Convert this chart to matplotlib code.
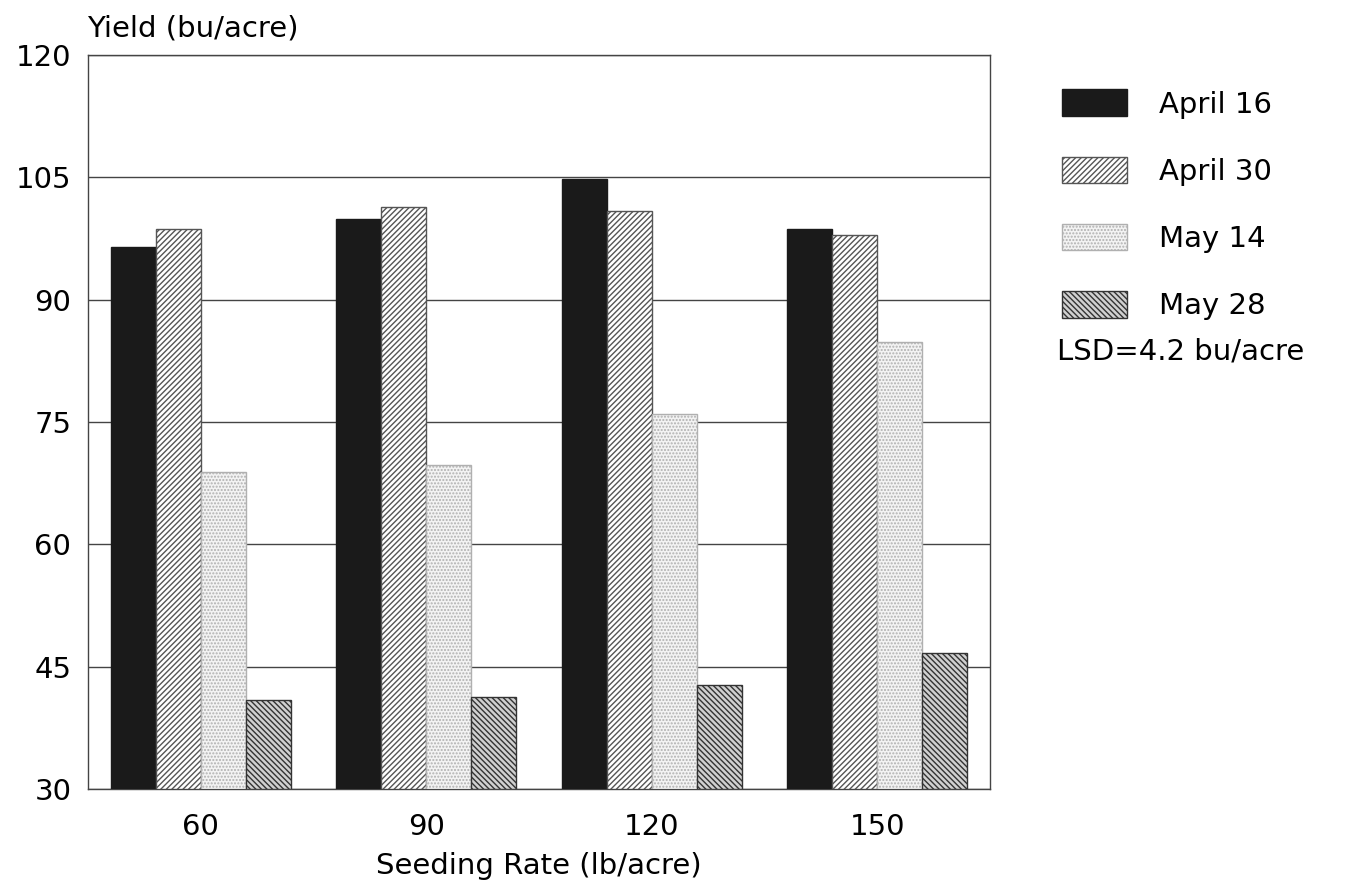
import matplotlib
matplotlib.use("Agg")
import matplotlib.pyplot as plt
import numpy as np

plt.rcParams['font.family'] = ['DejaVu Sans']
plt.rcParams['hatch.linewidth'] = 1.0

rates = ["60", "90", "120", "150"]
series = ["April 16", "April 30", "May 14", "May 28"]
april16 = [96.4, 99.9, 104.8, 98.7]
april30 = [98.7, 101.4, 100.9, 97.9]
may14 = [68.9, 69.7, 76.0, 84.8]
may28 = [40.9, 41.3, 42.8, 46.7]
values = [april16, april30, may14, may28]
yticks = [30, 45, 60, 75, 90, 105, 120]

styles = [
    dict(facecolor='#1a1a1a', edgecolor='#1a1a1a', hatch=None),
    dict(facecolor='white', edgecolor='#555555', hatch='//////'),
    dict(facecolor='#f3f3f3', edgecolor='#b0b0b0', hatch='.....'),
    dict(facecolor='#d0d0d0', edgecolor='#333333', hatch='\\\\\\\\\\\\'),
]

FS = 21

fig = plt.figure(figsize=(13.55, 8.88), dpi=100)
ax = fig.add_axes([88/1355, 1-789/888, (990-88)/1355, (789-55)/888])

x = np.arange(len(rates))
w = 0.2
handles = []
for i, (vals, st) in enumerate(zip(values, styles)):
    b = ax.bar(x + (i - 1.5) * w, np.array(vals) - 30, bottom=30, width=w,
               facecolor=st['facecolor'], edgecolor=st['edgecolor'],
               hatch=st['hatch'], linewidth=1.0, zorder=3, label=series[i])
    handles.append(b)

ax.set_xlim(-0.5, 3.5)
ax.set_ylim(30, 120)
ax.set_yticks(yticks)
ax.set_yticklabels([str(t) for t in yticks])
ax.set_xticks(x)
ax.set_xticklabels(rates)
ax.tick_params(axis='both', length=0, labelsize=FS)
ax.tick_params(axis='y', pad=12)
ax.tick_params(axis='x', pad=17)
ax.yaxis.grid(True, color='#444444', linewidth=1.0, zorder=0)
ax.set_axisbelow(True)
for s in ax.spines.values():
    s.set_color('#444444')
    s.set_linewidth(1.0)

ax.set_xlabel("Seeding Rate (lb/acre)", fontsize=FS, labelpad=8)
fig.text(87/1355, 1-28/888, "Yield (bu/acre)", fontsize=FS,
         ha='left', va='center')

leg = fig.legend(handles=handles, labels=series, loc='upper left',
                 bbox_to_anchor=(1039/1355, 1-66/888), frameon=False,
                 fontsize=FS, handlelength=2.23, handleheight=1.03,
                 labelspacing=1.3, handletextpad=1.1, borderpad=0.3)
fig.text(1057/1355, 1-352/888, "LSD=4.2 bu/acre", fontsize=FS,
         ha='left', va='center')

fig.savefig("out.png", dpi=100, facecolor='white')
